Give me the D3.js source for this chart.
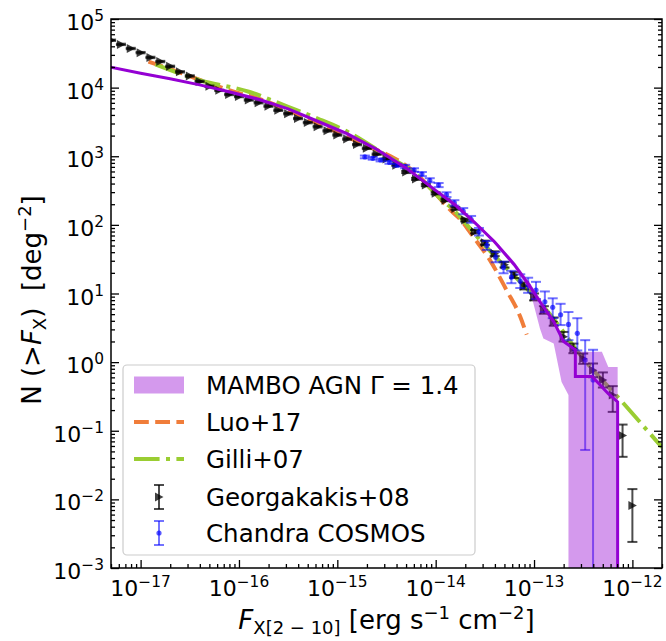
<!DOCTYPE html>
<html>
<head>
<meta charset="utf-8">
<script src="https://cdnjs.cloudflare.com/ajax/libs/d3/7.8.5/d3.min.js"></script>
<style>
  body { margin: 0; background: #fff; }
  svg { font-family: "DejaVu Sans", sans-serif; }
</style>
</head>
<body>
<div id="chart"></div>
<script>
// values are log10 of flux (erg/s/cm2) and log10 of N(>F) (deg^-2)
const xTickExps = [-17, -16, -15, -14, -13, -12];
const yTickExps = [-3, -2, -1, 0, 1, 2, 3, 4, 5];
const legendLabels = ["MAMBO AGN \u0393 = 1.4", "Luo+17", "Gilli+07", "Georgakakis+08", "Chandra COSMOS"];

// MAMBO AGN curve and its band
const mamboLogF = [-17.31, -17.0, -16.7, -16.4, -16.1, -15.8, -15.5, -15.2, -14.9, -14.6, -14.3, -14.0, -13.8, -13.6, -13.4, -13.2, -13.04, -12.94, -12.8, -12.7, -12.58, -12.58, -12.41, -12.245, -12.15, -12.15];
const mamboLogN = [4.30, 4.21, 4.13, 4.04, 3.94, 3.83, 3.69, 3.51, 3.33, 3.10, 2.83, 2.50, 2.29, 2.03, 1.75, 1.42, 1.10, 0.88, 0.59, 0.30, 0.18, -0.21, -0.21, -0.46, -0.58, -4];
const bandLogF = [-17.31, -16.4, -15.5, -14.6, -14.0, -13.6, -13.4, -13.2, -13.04, -12.94, -12.905, -12.8, -12.72, -12.65, -12.65, -12.58, -12.52, -12.31, -12.245, -12.15, -12.15];
const bandLow = [4.29, 4.03, 3.68, 3.09, 2.49, 2.01, 1.72, 1.38, 1.04, 0.49, 0.345, 0.27, -0.29, -0.48, -4, -4, -4, -4, -4, -4, -4];
const bandHigh = [4.31, 4.05, 3.70, 3.11, 2.51, 2.05, 1.78, 1.46, 1.15, 0.93, 0.85, 0.64, 0.36, 0.25, 0.25, 0.19, 0.15, 0.15, -0.07, -0.07, -4];

// Luo+17
const luoLogF = [-16.92, -16.6, -16.3, -16.0, -15.8, -15.5, -15.2, -15.0, -14.7, -14.5, -14.36, -14.18, -14.0, -13.84, -13.75, -13.62, -13.45, -13.28, -13.14, -13.075];
const luoLogN = [4.38, 4.22, 4.06, 3.92, 3.84, 3.67, 3.48, 3.35, 3.15, 3.03, 2.92, 2.72, 2.45, 2.20, 2.08, 1.83, 1.49, 1.05, 0.66, 0.40];

// Gilli+07
const gilliLogF = [-16.85, -16.4, -15.9, -15.5, -15.2, -14.9, -14.5, -14.2, -13.95, -13.8, -13.7, -13.5, -13.3, -13.1, -12.8, -12.57, -12.06, -11.7];
const gilliLogN = [4.34, 4.11, 3.94, 3.72, 3.55, 3.36, 3.01, 2.74, 2.38, 2.19, 2.03, 1.70, 1.40, 1.11, 0.63, 0.18, -0.65, -1.24];

// Georgakakis+08
const georgLogF = [-17.3, -17.2, -17.1, -17.0, -16.9, -16.8, -16.7, -16.6, -16.5, -16.4, -16.3, -16.2, -16.1, -16.0, -15.9, -15.8, -15.7, -15.6, -15.5, -15.4, -15.3, -15.2, -15.1, -15.0, -14.9, -14.8, -14.7, -14.6, -14.5, -14.4, -14.3, -14.2, -14.1, -14.0, -13.9, -13.8, -13.7, -13.6, -13.5, -13.4, -13.3, -13.2, -13.1, -13.0, -12.9, -12.8, -12.7, -12.6, -12.5, -12.4, -12.3, -12.2, -12.1, -12.0];
const georgLogN = [4.69, 4.63, 4.57, 4.51, 4.44, 4.38, 4.31, 4.23, 4.17, 4.09, 4.02, 3.96, 3.90, 3.87, 3.82, 3.78, 3.73, 3.67, 3.62, 3.55, 3.49, 3.43, 3.37, 3.31, 3.25, 3.17, 3.115, 3.03, 2.96, 2.87, 2.77, 2.67, 2.58, 2.46, 2.36, 2.24, 2.07, 1.90, 1.74, 1.58, 1.42, 1.27, 1.11, 0.95, 0.76, 0.59, 0.37, 0.20, 0.05, -0.12, -0.26, -0.48, -1.07, -2.09];
const georgErrDn = [0.01, 0.01, 0.01, 0.01, 0.01, 0.01, 0.01, 0.01, 0.01, 0.01, 0.01, 0.01, 0.01, 0.01, 0.01, 0.01, 0.01, 0.01, 0.01, 0.01, 0.01, 0.01, 0.01, 0.01, 0.01, 0.01, 0.01, 0.01, 0.01, 0.01, 0.015, 0.015, 0.015, 0.015, 0.015, 0.02, 0.02, 0.025, 0.03, 0.035, 0.04, 0.045, 0.05, 0.05, 0.055, 0.06, 0.07, 0.07, 0.075, 0.1, 0.11, 0.245, 0.31, 0.53];
const georgErrUp = [0.01, 0.01, 0.01, 0.01, 0.01, 0.01, 0.01, 0.01, 0.01, 0.01, 0.01, 0.01, 0.01, 0.01, 0.01, 0.01, 0.01, 0.01, 0.01, 0.01, 0.01, 0.01, 0.01, 0.01, 0.01, 0.01, 0.01, 0.01, 0.01, 0.01, 0.015, 0.015, 0.015, 0.015, 0.015, 0.02, 0.02, 0.025, 0.03, 0.035, 0.04, 0.045, 0.05, 0.05, 0.055, 0.06, 0.07, 0.07, 0.075, 0.1, 0.11, 0.13, 0.16, 0.24];

// Chandra COSMOS
const chandraLogF = [-14.72, -14.64, -14.56, -14.47, -14.39, -14.31, -14.22, -14.14, -14.06, -13.97, -13.89, -13.81, -13.72, -13.64, -13.56, -13.48, -13.39, -13.31, -13.23, -13.14, -13.06, -12.98, -12.89, -12.81, -12.73, -12.65, -12.56, -12.48, -12.40];
const chandraLogN = [2.99, 2.97, 2.945, 2.91, 2.87, 2.85, 2.80, 2.74, 2.65, 2.58, 2.44, 2.32, 2.20, 2.08, 1.90, 1.70, 1.53, 1.38, 1.24, 1.18, 1.12, 1.05, 0.88, 0.80, 0.69, 0.55, 0.42, 0.03, -0.26];
const chandraErrDn = [0.02, 0.02, 0.02, 0.02, 0.02, 0.025, 0.025, 0.03, 0.03, 0.03, 0.035, 0.04, 0.045, 0.05, 0.055, 0.065, 0.075, 0.085, 0.09, 0.1, 0.11, 0.13, 0.15, 0.16, 0.15, 0.23, 0.25, 1.31, 10];
const chandraErrUp = [0.02, 0.02, 0.02, 0.02, 0.02, 0.025, 0.025, 0.03, 0.03, 0.03, 0.035, 0.04, 0.045, 0.05, 0.055, 0.065, 0.075, 0.085, 0.09, 0.1, 0.11, 0.12, 0.15, 0.13, 0.16, 0.18, 0.22, 0.29, 0.44];

const pow10 = (v) => Math.pow(10, v);
const plotL = 111, plotR = 662, plotT = 19, plotB = 568;

const svg = d3.select("#chart").append("svg").attr("width", 666).attr("height", 641);

const x = d3.scaleLog().domain([5e-18, 2e-12]).range([plotL, plotR]);
const y = d3.scaleLog().domain([1e-3, 1e5]).range([plotB, plotT]);

svg.append("defs").append("clipPath").attr("id", "plotclip")
  .append("rect").attr("x", plotL).attr("y", plotT).attr("width", plotR - plotL).attr("height", plotB - plotT);

const plot = svg.append("g").attr("clip-path", "url(#plotclip)");

const smooth = d3.line().x((d) => x(pow10(d[0]))).y((d) => y(pow10(d[1]))).curve(d3.curveMonotoneX);
const straight = d3.line().x((d) => x(pow10(d[0]))).y((d) => y(pow10(d[1])));

// Luo+17
plot.append("path").datum(d3.zip(luoLogF, luoLogN))
  .attr("d", smooth).attr("fill", "none")
  .attr("stroke", "#f07d3a").attr("stroke-width", 4)
  .attr("stroke-dasharray", "14.8,6.4");

// Gilli+07
plot.append("path").datum(d3.zip(gilliLogF, gilliLogN))
  .attr("d", smooth).attr("fill", "none")
  .attr("stroke", "#9acd32").attr("stroke-width", 4)
  .attr("stroke-dasharray", "25.6,6.4,4,6.4");

// error bar helper
function errorBars(g, fx, fy, dn, up, color, opacity, capW) {
  const pts = fx.map((f, i) => ({
    x: x(pow10(f)),
    y0: y(pow10(fy[i] - dn[i])),
    y1: y(pow10(fy[i] + up[i]))
  }));
  const eb = g.append("g").attr("stroke", color).attr("stroke-opacity", opacity).attr("stroke-width", 2);
  eb.selectAll(".bar").data(pts).join("line").attr("class", "bar")
    .attr("x1", (d) => d.x).attr("x2", (d) => d.x)
    .attr("y1", (d) => d.y0).attr("y2", (d) => d.y1);
  eb.selectAll(".capLo").data(pts).join("line").attr("class", "capLo")
    .attr("x1", (d) => d.x - capW).attr("x2", (d) => d.x + capW)
    .attr("y1", (d) => d.y0).attr("y2", (d) => d.y0);
  eb.selectAll(".capHi").data(pts).join("line").attr("class", "capHi")
    .attr("x1", (d) => d.x - capW).attr("x2", (d) => d.x + capW)
    .attr("y1", (d) => d.y1).attr("y2", (d) => d.y1);
}

const triangle = "M-4,-4.5L4.5,0L-4,4.5Z";

// Georgakakis+08
errorBars(plot, georgLogF, georgLogN, georgErrDn, georgErrUp, "#000", 0.7, 5);
plot.append("g").selectAll("path").data(d3.zip(georgLogF, georgLogN)).join("path")
  .attr("d", triangle)
  .attr("transform", (d) => `translate(${x(pow10(d[0]))},${y(pow10(d[1]))})`)
  .attr("fill", "#000").attr("fill-opacity", 0.75);

// Chandra COSMOS
errorBars(plot, chandraLogF, chandraLogN, chandraErrDn, chandraErrUp, "blue", 0.55, 5);
plot.append("g").selectAll("circle").data(d3.zip(chandraLogF, chandraLogN)).join("circle")
  .attr("cx", (d) => x(pow10(d[0]))).attr("cy", (d) => y(pow10(d[1])))
  .attr("r", 2.6).attr("fill", "blue").attr("fill-opacity", 0.65);

// MAMBO band + line
const band = d3.area()
  .x((d) => x(pow10(d[0])))
  .y0((d) => y(pow10(d[1])))
  .y1((d) => y(pow10(d[2])));
plot.append("path").datum(d3.zip(bandLogF, bandLow, bandHigh))
  .attr("d", band).attr("fill", "darkviolet").attr("fill-opacity", 0.4);
plot.append("path").datum(d3.zip(mamboLogF, mamboLogN))
  .attr("d", straight).attr("fill", "none")
  .attr("stroke", "darkviolet").attr("stroke-width", 3);

// axes: ticks pointing inward, no top ticks
const minorX = [];
for (let e = -18; e <= -12; e++) for (let m = 2; m <= 9; m++) {
  const v = m * pow10(e);
  if (v >= 5e-18 && v <= 2e-12) minorX.push(v);
}
const minorY = [];
for (let e = -3; e <= 4; e++) for (let m = 2; m <= 9; m++) minorY.push(m * pow10(e));

function tickStyle(g) {
  g.select(".domain").remove();
  g.selectAll(".tick line").attr("stroke", "#000").attr("stroke-width", 1.3);
}

svg.append("g").attr("transform", `translate(0,${plotB})`)
  .call(d3.axisTop(x).tickValues(xTickExps.map(pow10)).tickSize(8).tickFormat("")).call(tickStyle);
svg.append("g").attr("transform", `translate(0,${plotB})`)
  .call(d3.axisTop(x).tickValues(minorX).tickSize(4).tickFormat("")).call(tickStyle);
svg.append("g").attr("transform", `translate(${plotL},0)`)
  .call(d3.axisRight(y).tickValues(yTickExps.map(pow10)).tickSize(8).tickFormat("")).call(tickStyle);
svg.append("g").attr("transform", `translate(${plotL},0)`)
  .call(d3.axisRight(y).tickValues(minorY).tickSize(4).tickFormat("")).call(tickStyle);
svg.append("g").attr("transform", `translate(${plotR},0)`)
  .call(d3.axisLeft(y).tickValues(yTickExps.map(pow10)).tickSize(8).tickFormat("")).call(tickStyle);
svg.append("g").attr("transform", `translate(${plotR},0)`)
  .call(d3.axisLeft(y).tickValues(minorY).tickSize(4).tickFormat("")).call(tickStyle);

svg.append("rect").attr("x", plotL).attr("y", plotT)
  .attr("width", plotR - plotL).attr("height", plotB - plotT)
  .attr("fill", "none").attr("stroke", "#000").attr("stroke-width", 1.5);

// tick labels with superscript exponents
const expText = (e) => (e < 0 ? "\u2212" + Math.abs(e) : String(e));

const xLabels = svg.append("g").selectAll("text").data(xTickExps).join("text")
  .attr("x", (e) => x(pow10(e))).attr("y", plotB + 28)
  .attr("text-anchor", "middle").attr("font-size", 22).attr("fill", "#000");
xLabels.append("tspan").text("10");
xLabels.append("tspan").attr("font-size", 15.4).attr("dy", -9).text((e) => expText(e));

const yLabels = svg.append("g").selectAll("text").data(yTickExps).join("text")
  .attr("x", plotL - 7).attr("y", (e) => y(pow10(e)) + 11)
  .attr("text-anchor", "end").attr("font-size", 22).attr("fill", "#000");
yLabels.append("tspan").text("10");
yLabels.append("tspan").attr("font-size", 15.4).attr("dy", -9).text((e) => expText(e));

// axis titles
const xt = svg.append("text").attr("x", (plotL + plotR) / 2).attr("y", 629)
  .attr("text-anchor", "middle").attr("font-size", 26).attr("fill", "#000")
  .style("white-space", "pre");
xt.append("tspan").attr("font-style", "italic").text("F");
xt.append("tspan").attr("font-size", 18).attr("dy", 5).text("X[2 \u2212 10]");
xt.append("tspan").attr("dy", -5).text(" [erg s");
xt.append("tspan").attr("font-size", 18).attr("dy", -10).text("\u22121");
xt.append("tspan").attr("dy", 10).text(" cm");
xt.append("tspan").attr("font-size", 18).attr("dy", -10).text("\u22122");
xt.append("tspan").attr("dy", 10).text("]");

const yt = svg.append("text").attr("transform", "translate(41,300) rotate(-90)")
  .attr("text-anchor", "middle").attr("font-size", 26).attr("fill", "#000")
  .style("white-space", "pre");
yt.append("tspan").text("N (>");
yt.append("tspan").attr("font-style", "italic").text("F");
yt.append("tspan").attr("font-size", 18).attr("dy", 5).text("X");
yt.append("tspan").attr("dy", -5).text(")  [deg");
yt.append("tspan").attr("font-size", 18).attr("dy", -10).text("\u22122");
yt.append("tspan").attr("dy", 10).text("]");

// legend
const lg = svg.append("g");
lg.append("rect").attr("x", 123).attr("y", 365).attr("width", 352).attr("height", 190).attr("rx", 4)
  .attr("fill", "#fff").attr("fill-opacity", 0.8).attr("stroke", "#ccc").attr("stroke-width", 1.2);
const rowY = [385, 422, 459, 497, 533];
lg.append("rect").attr("x", 134).attr("y", rowY[0] - 8.5).attr("width", 50).attr("height", 17)
  .attr("fill", "darkviolet").attr("fill-opacity", 0.4);
lg.append("line").attr("x1", 134).attr("x2", 184).attr("y1", rowY[1]).attr("y2", rowY[1])
  .attr("stroke", "#f07d3a").attr("stroke-width", 4).attr("stroke-dasharray", "14.8,6.4");
lg.append("line").attr("x1", 134).attr("x2", 184).attr("y1", rowY[2]).attr("y2", rowY[2])
  .attr("stroke", "#9acd32").attr("stroke-width", 4).attr("stroke-dasharray", "25.6,6.4,4,6.4");
function legendErr(cy, color, opacity) {
  const g = lg.append("g").attr("stroke", color).attr("stroke-opacity", opacity).attr("stroke-width", 2);
  g.append("line").attr("x1", 159).attr("x2", 159).attr("y1", cy - 12).attr("y2", cy + 12);
  g.append("line").attr("x1", 154).attr("x2", 164).attr("y1", cy - 12).attr("y2", cy - 12);
  g.append("line").attr("x1", 154).attr("x2", 164).attr("y1", cy + 12).attr("y2", cy + 12);
}
legendErr(rowY[3], "#000", 0.7);
lg.append("path").attr("d", triangle).attr("transform", `translate(159,${rowY[3]})`)
  .attr("fill", "#000").attr("fill-opacity", 0.75);
legendErr(rowY[4], "blue", 0.55);
lg.append("circle").attr("cx", 159).attr("cy", rowY[4]).attr("r", 2.6)
  .attr("fill", "blue").attr("fill-opacity", 0.65);
lg.selectAll(".lbl").data(legendLabels).join("text").attr("class", "lbl")
  .attr("x", 206).attr("y", (d, i) => rowY[i] + 9)
  .attr("font-size", 24.5).attr("fill", "#000").text((d) => d);
</script>
</body>
</html>
